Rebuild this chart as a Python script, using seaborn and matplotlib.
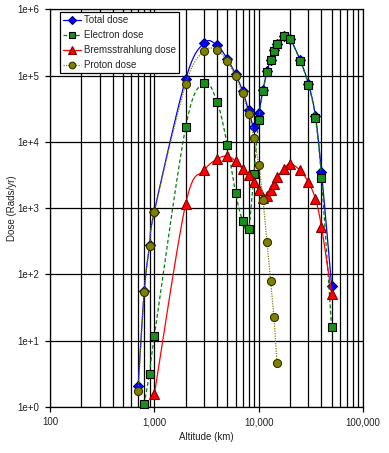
import matplotlib
matplotlib.use("Agg")
import matplotlib.pyplot as plt
import numpy as np
import pandas as pd
import seaborn as sns
from matplotlib.lines import Line2D
from matplotlib.ticker import FuncFormatter, LogLocator, NullFormatter

# altitude (km) and dose (rads/yr)
alt_total = [700, 800, 900, 1000, 2000, 3000, 4000, 5000, 6000, 7000, 8000, 9000, 10000,
             11000, 12000, 13000, 14000, 15000, 17500, 20000, 25000, 30000, 35000, 40000, 50000]
total_dose = [2.1, 56, 275, 890, 8.9e4, 3.1e5, 2.85e5, 1.78e5, 1.05e5, 5.9e4, 3.0e4, 1.7e4, 2.75e4,
              6.1e4, 1.16e5, 1.73e5, 2.4e5, 3.0e5, 4.0e5, 3.6e5, 1.7e5, 7.5e4, 2.45e4, 3.5e3, 68]

alt_electron = [800, 900, 1000, 2000, 3000, 4000, 5000, 6000, 7000, 8000, 9000, 10000,
                11000, 12000, 13000, 14000, 15000, 17500, 20000, 25000, 30000, 35000, 40000, 50000]
electron_dose = [1.1, 3.2, 11.6, 1.69e4, 7.6e4, 4.0e4, 9.0e3, 1.7e3, 650, 485, 3.3e3, 2.13e4,
                 5.8e4, 1.14e5, 1.71e5, 2.37e5, 3.0e5, 4.0e5, 3.56e5, 1.67e5, 7.3e4, 2.3e4, 2.83e3, 16]

alt_brems = [1000, 2000, 3000, 4000, 5000, 6000, 7000, 8000, 9000, 10000, 11000,
             12000, 13000, 14000, 15000, 17500, 20000, 25000, 30000, 35000, 40000, 50000]
brems_dose = [1.55, 1.17e3, 3.7e3, 5.5e3, 6.1e3, 5.1e3, 3.9e3, 3.2e3, 2.5e3, 1.86e3, 1.4e3,
              1.5e3, 1.9e3, 2.35e3, 2.95e3, 3.9e3, 4.7e3, 3.7e3, 2.45e3, 1.38e3, 520, 51]

alt_proton = [700, 800, 900, 1000, 2000, 3000, 4000, 5000, 6000, 7000, 8000, 9000,
              10000, 11000, 12000, 13000, 14000, 15000]
proton_dose = [1.75, 54, 272, 877, 7.4e4, 2.34e5, 2.4e5, 1.66e5, 9.7e4, 5.4e4, 2.6e4, 1.16e4,
               4.5e3, 1.33e3, 309, 81, 22.7, 4.6]


def smooth(x, y, n=25):
    # excel-like smoothed line (bezier through the points, in log-log space)
    P = np.column_stack([np.log10(x), np.log10(y)])
    P = np.vstack([P[0], P, P[-1]])
    t = np.linspace(0, 1, n)[:, None]
    segs = []
    for i in range(1, len(P) - 2):
        p0, p1, p2, p3 = P[i - 1], P[i], P[i + 1], P[i + 2]
        b1 = p1 + (p2 - p0) / 6
        b2 = p2 - (p3 - p1) / 6
        segs.append((1 - t) ** 3 * p1 + 3 * (1 - t) ** 2 * t * b1 + 3 * (1 - t) * t ** 2 * b2 + t ** 3 * p2)
    c = np.vstack(segs)
    return pd.DataFrame({'x': 10 ** c[:, 0], 'y': 10 ** c[:, 1]})


sns.set_theme(style="white")
plt.rcParams['font.family'] = ['Liberation Sans', 'DejaVu Sans']
plt.rcParams['font.size'] = 7

fig = plt.figure(figsize=(3.89, 4.53), dpi=100)
ax = fig.add_axes([0.1285, 0.1015, 0.8047, 0.878])

series = [
    ('Total dose', alt_total, total_dose, '#0000ff', '-', 'D', '#0000ff', '#000080', 5.2),
    ('Electron dose', alt_electron, electron_dose, '#008000', (0, (3, 2)), 's', '#1a901a', '#000000', 5.8),
    ('Bremsstrahlung dose', alt_brems, brems_dose, '#ff0000', '-', '^', '#ff0000', '#800000', 6.8),
    ('Proton dose', alt_proton, proton_dose, '#808000', (0, (1, 1)), 'o', '#808000', '#303000', 5.8),
]

handles = []
for k, (name, xs, ys, col, ls, mk, fc, ec, ms) in enumerate(series):
    curve = smooth(xs, ys)
    sns.lineplot(data=curve, x='x', y='y', sort=False, estimator=None, ax=ax,
                 color=col, linestyle=ls, linewidth=0.9, zorder=3 + 2 * k)
    ax.plot(xs, ys, linestyle='none', marker=mk, markersize=ms, markerfacecolor=fc,
            markeredgecolor=ec, markeredgewidth=0.8, clip_on=False, zorder=4 + 2 * k)
    handles.append(Line2D([], [], color=col, linestyle=ls, linewidth=0.9, marker=mk,
                          markersize=ms - 1, markerfacecolor=fc, markeredgecolor=ec,
                          markeredgewidth=0.8, label=name))

ax.set_xscale('log')
ax.set_yscale('log')
ax.set_xlim(100, 100000)
ax.set_ylim(1, 1e6)

ax.xaxis.set_major_locator(LogLocator(base=10, numticks=10))
ax.xaxis.set_minor_locator(LogLocator(base=10, subs=np.arange(2, 10), numticks=20))
ax.xaxis.set_minor_formatter(NullFormatter())
ax.yaxis.set_major_locator(LogLocator(base=10, numticks=10))
ax.yaxis.set_minor_locator(LogLocator(base=10, subs=[], numticks=10))
ax.xaxis.set_major_formatter(FuncFormatter(lambda v, p: f"{int(round(v)):,}"))
ax.yaxis.set_major_formatter(FuncFormatter(lambda v, p: f"1e+{int(round(np.log10(v)))}"))

ax.grid(which='major', axis='both', color='black', linewidth=0.9)
ax.grid(which='minor', axis='x', color='black', linewidth=0.9)
ax.tick_params(axis='both', which='major', direction='out', length=3.5, width=0.9,
               color='black', labelsize=7, labelcolor='#222222', pad=4,
               bottom=True, left=True)
ax.tick_params(axis='both', which='minor', length=0)
for s in ax.spines.values():
    s.set_color('black')
    s.set_linewidth(0.9)

ax.set_xlabel('Altitude (km)', fontsize=7, color='#222222')
ax.set_ylabel('Dose (Rads/yr)', fontsize=7, color='#222222')
ax.xaxis.set_label_coords(0.5, -0.062)
ax.yaxis.set_label_coords(-0.105, 0.5)

leg = ax.legend(handles=handles, loc='upper left', bbox_to_anchor=(0.032, 0.993),
                fontsize=7, frameon=True, fancybox=False, framealpha=1,
                edgecolor='black', handlelength=1.8, handletextpad=0.3,
                labelspacing=0.5, borderpad=0.35, borderaxespad=0)
leg.get_frame().set_linewidth(0.9)
leg.set_zorder(20)

fig.savefig('out.png', dpi=100, facecolor='white')
